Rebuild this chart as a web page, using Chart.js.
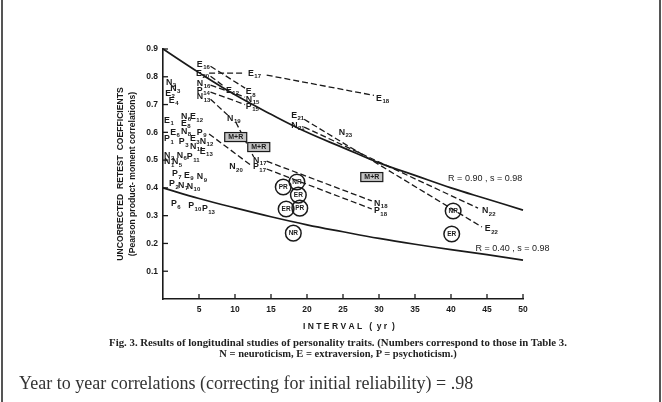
<!DOCTYPE html>
<html>
<head>
<meta charset="utf-8">
<script src="https://cdn.jsdelivr.net/npm/chart.js@4.4.1/dist/chart.umd.min.js"></script>
<style>
html, body { margin: 0; padding: 0; background: #fff; }
#wrap { position: relative; width: 662px; height: 402px; overflow: hidden; }
#c { position: absolute; left: 0; top: 0; }
.frame { position: absolute; top: 0; bottom: 0; width: 2px; background: #555; }
.cap { position: absolute; left: 0; width: 676px; text-align: center; font-family: "Liberation Serif", "Times New Roman", serif; font-weight: bold; line-height: 11px; color: #222; white-space: nowrap; }
.note { position: absolute; left: 19px; top: 372px; font-family: "Liberation Serif", "Times New Roman", serif; font-size: 18px; line-height: 22px; color: #333; white-space: nowrap; }
</style>
</head>
<body>
<div id="wrap">
  <canvas id="c" width="662" height="402"></canvas>
  <div class="frame" style="left:1px"></div>
  <div class="frame" style="left:659px"></div>
  <div class="cap" style="top:337px;font-size:10.8px">Fig. 3. Results of longitudinal studies of personality traits. (Numbers correspond to those in Table 3.</div>
  <div class="cap" style="top:348px;font-size:10.5px">N = neuroticism, E = extraversion, P = psychoticism.)</div>
  <div class="note">Year to year correlations (correcting for initial reliability) = .98</div>
</div>
<script>
/* global Chart */
(function () {
    'use strict';

    // theoretical curves (R = 0.90 / R = 0.40, s = 0.98)
    var curveX = [0, 5, 10, 15, 20, 25, 30, 35, 40, 45, 50];
    var curveHigh = [0.90, 0.815, 0.735, 0.665, 0.600, 0.545, 0.490, 0.445, 0.400, 0.360, 0.320];
    var curveLow = [0.400, 0.362, 0.328, 0.296, 0.267, 0.242, 0.218, 0.197, 0.178, 0.160, 0.140];

    // study markers (letter + table number)
    var studyNames = ['E16', 'E20', 'N16', 'P14', 'N13', 'E17', 'E12', 'E8', 'N15', 'P15', 'E18',
        'E21', 'N21', 'N23', 'N19', 'N17', 'P17', 'N20', 'N18', 'P18', 'N22', 'E22',
        'N2', 'N3', 'E2', 'E4', 'E1', 'N6', 'E12', 'E8', 'E6', 'N8', 'P9', 'P1', 'P3', 'E3', 'N12',
        'N11', 'E13', 'N2', 'N6', 'P11', 'N1', 'N5', 'P7', 'E9', 'N9', 'P2', 'N7', 'N10', 'P6', 'P10', 'P13'];
    var studyX = [4.7, 4.6, 4.7, 4.7, 4.7, 11.8, 8.75, 11.5, 11.5, 11.5, 29.6,
        17.8, 17.8, 24.4, 8.9, 12.5, 12.5, 9.2, 29.3, 29.3, 44.3, 44.7,
        0.4, 1.0, 0.3, 0.8, 0.15, 2.5, 3.75, 2.5, 1.0, 2.5, 4.7, 0.15, 2.2, 3.75, 5.1,
        3.75, 5.1, 0.15, 1.9, 3.3, 0.15, 1.25, 1.25, 2.9, 4.7, 0.85, 2.1, 3.3, 1.1, 3.5, 5.4];
    var studyY = [0.845, 0.813, 0.777, 0.752, 0.727, 0.813, 0.752, 0.745, 0.719, 0.694, 0.723,
        0.662, 0.626, 0.600, 0.651, 0.500, 0.475, 0.475, 0.345, 0.317, 0.317, 0.252,
        0.780, 0.759, 0.741, 0.716, 0.644, 0.658, 0.655, 0.633, 0.600, 0.604, 0.600, 0.576, 0.565, 0.576, 0.568,
        0.550, 0.532, 0.518, 0.518, 0.511, 0.493, 0.493, 0.450, 0.446, 0.439, 0.414, 0.410, 0.406, 0.342, 0.335, 0.324];

    // dashed retest links
    var linkX1 = [6.4, 14.4, 6.6, 6.6, 6.6, 6.6, 6.6, 10.1, 14.4, 6.4, 14.4, 19.6, 19.6];
    var linkY1 = [0.813, 0.806, 0.838, 0.802, 0.770, 0.745, 0.719, 0.637, 0.496, 0.594, 0.468, 0.647, 0.619];
    var linkX2 = [11.4, 29.3, 11.4, 8.6, 11.4, 11.4, 9.0, 12.6, 29.0, 12.4, 29.0, 44.3, 43.75];
    var linkY2 = [0.813, 0.733, 0.759, 0.763, 0.727, 0.700, 0.662, 0.511, 0.353, 0.478, 0.324, 0.259, 0.327];

    // boxed M+R and circled NR / ER / PR markers
    var boxNames = ['M+R', 'M+R', 'M+R'];
    var boxX = [10.1, 13.3, 29.0];
    var boxY = [0.583, 0.547, 0.439];
    var circleNames = ['PR', 'NR', 'ER', 'ER', 'PR', 'NR', 'NR', 'ER'];
    var circleX = [16.7, 18.6, 18.8, 17.1, 19.0, 18.1, 40.3, 40.1];
    var circleY = [0.403, 0.421, 0.374, 0.324, 0.327, 0.237, 0.317, 0.234];

    // curve annotations
    var fitNames = ['R = 0.90 , s = 0.98', 'R = 0.40 , s = 0.98'];
    var fitX = [39.6, 43.4];
    var fitY = [0.435, 0.183];

    var ink = '#1a1a1a';
    var sans = '"Liberation Sans", Arial, sans-serif';

    function pts(xs, ys) {
        return xs.map(function (x, i) { return { x: x, y: ys[i] }; });
    }

    var datasets = [
        { data: pts(curveX, curveHigh), showLine: true, borderColor: ink, borderWidth: 1.7, pointRadius: 0, tension: 0.4, clip: false },
        { data: pts(curveX, curveLow), showLine: true, borderColor: ink, borderWidth: 1.7, pointRadius: 0, tension: 0.4, clip: false }
    ];
    linkX1.forEach(function (x, i) {
        datasets.push({ data: [{ x: x, y: linkY1[i] }, { x: linkX2[i], y: linkY2[i] }], showLine: true,
            borderColor: ink, borderWidth: 1.3, borderDash: [6, 3], pointRadius: 0, clip: false });
    });
    datasets.push({ kind: 'study', names: studyNames, data: pts(studyX, studyY), pointRadius: 0, clip: false });
    datasets.push({ kind: 'box', names: boxNames, data: pts(boxX, boxY), pointRadius: 0, clip: false });
    datasets.push({ kind: 'circle', names: circleNames, data: pts(circleX, circleY), pointRadius: 7.8,
        pointBorderWidth: 1.5, pointBorderColor: ink, pointBackgroundColor: 'rgba(255,255,255,0)', clip: false });
    datasets.push({ kind: 'note', names: fitNames, data: pts(fitX, fitY), pointRadius: 0, clip: false });

    var markPlugin = {
        id: 'marks',
        afterDatasetsDraw: function (chart) {
            var ctx = chart.ctx;
            ctx.save();
            ctx.fillStyle = ink;
            ctx.textBaseline = 'middle';
            chart.data.datasets.forEach(function (ds, i) {
                if (!ds.kind) { return; }
                chart.getDatasetMeta(i).data.forEach(function (pt, j) {
                    var name = ds.names[j];
                    var x = pt.x, y = pt.y;
                    if (ds.kind === 'study') {
                        ctx.textAlign = 'left';
                        ctx.font = 'bold 8.8px ' + sans;
                        var letter = name.charAt(0);
                        ctx.fillText(letter, x, y);
                        var w = ctx.measureText(letter).width;
                        ctx.font = 'bold 6px ' + sans;
                        ctx.fillText(name.slice(1), x + w + 0.5, y + 3.2);
                    } else if (ds.kind === 'box') {
                        ctx.fillStyle = '#c4c4c4';
                        ctx.fillRect(x - 11, y - 4.5, 22, 9);
                        ctx.strokeStyle = ink;
                        ctx.lineWidth = 1.2;
                        ctx.strokeRect(x - 11, y - 4.5, 22, 9);
                        ctx.fillStyle = ink;
                        ctx.textAlign = 'center';
                        ctx.font = 'bold 7px ' + sans;
                        ctx.fillText(name, x, y + 0.5);
                    } else if (ds.kind === 'circle') {
                        ctx.textAlign = 'center';
                        ctx.font = 'bold 6.5px ' + sans;
                        ctx.fillText(name, x, y + 0.5);
                    } else {
                        ctx.textAlign = 'left';
                        ctx.font = '9px ' + sans;
                        ctx.fillText(name, x, y);
                    }
                });
            });
            ctx.restore();
        }
    };

    // tick marks point into the plot, as in the printed figure
    var inwardTicks = {
        id: 'inwardTicks',
        afterDraw: function (chart) {
            var ctx = chart.ctx, a = chart.chartArea;
            var xs = chart.scales.x, ys = chart.scales.y;
            ctx.save();
            ctx.strokeStyle = ink;
            ctx.lineWidth = 1.3;
            xs.ticks.forEach(function (t) {
                if (!t.value) { return; }
                var px = xs.getPixelForValue(t.value);
                ctx.beginPath(); ctx.moveTo(px, a.bottom); ctx.lineTo(px, a.bottom - 5); ctx.stroke();
            });
            ys.ticks.forEach(function (t) {
                if (t.value < 0.05) { return; }
                var py = ys.getPixelForValue(t.value);
                ctx.beginPath(); ctx.moveTo(a.left, py); ctx.lineTo(a.left + 5, py); ctx.stroke();
            });
            ctx.restore();
        }
    };

    var tickFont = { family: sans, size: 8.5, weight: 'bold' };

    new Chart(document.getElementById('c'), {
        type: 'scatter',
        data: { datasets: datasets },
        plugins: [markPlugin, inwardTicks],
        options: {
            responsive: false,
            animation: false,
            layout: { padding: { left: 100, top: 49, right: 139, bottom: 50 } },
            plugins: { legend: { display: false }, tooltip: { enabled: false } },
            scales: {
                x: {
                    type: 'linear', min: 0, max: 50,
                    afterFit: function (s) { s.height = 53; },
                    grid: { display: false, drawTicks: false },
                    border: { display: true, color: ink, width: 1.6 },
                    ticks: { stepSize: 5, padding: 6, maxRotation: 0, color: ink, font: tickFont,
                        callback: function (v) { return v === 0 ? '' : v; } },
                    title: { display: true, text: '     I N T E R V A L   (  y r  )', color: ink,
                        font: { family: sans, size: 8.5, weight: 'bold' },
                        padding: { top: 0, bottom: 20 } }
                },
                y: {
                    type: 'linear', min: 0, max: 0.9,
                    afterFit: function (s) { s.width = 63; },
                    grid: { display: false, drawTicks: false },
                    border: { display: true, color: ink, width: 1.6 },
                    ticks: { stepSize: 0.1, padding: 5, color: ink, font: tickFont,
                        callback: function (v) { return v < 0.05 ? '' : v.toFixed(1); } },
                    title: { display: true, color: ink,
                        text: ['UNCORRECTED  RETEST  COEFFICIENTS', '(Pearson product- moment correlations)'],
                        font: { family: sans, size: 8.6, weight: 'bold', lineHeight: 1.4 },
                        padding: { top: 15, bottom: 0 } }
                }
            }
        }
    });
})();
</script>
</body>
</html>
